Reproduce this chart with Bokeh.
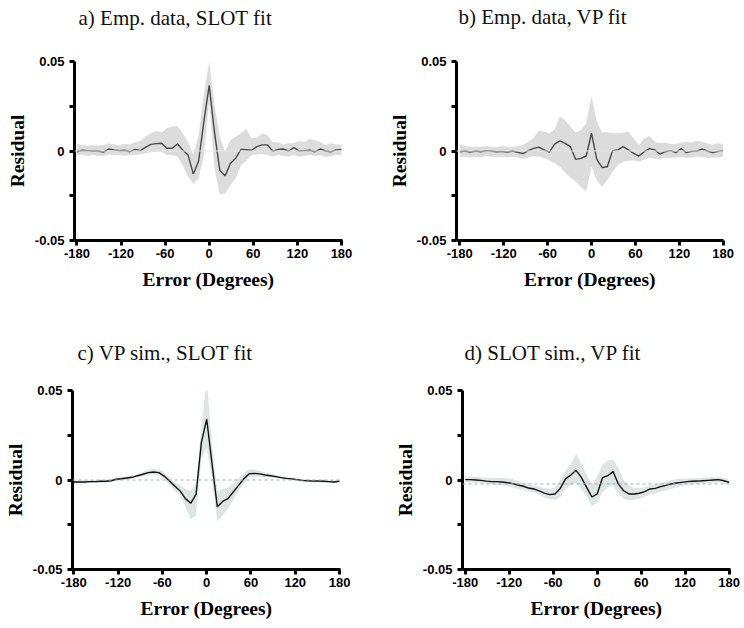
from bokeh.plotting import figure
from bokeh.layouts import column, row
from bokeh.models import Range1d, FixedTicker, Span, CustomJSTickFormatter, Title
from bokeh.embed import file_html
from bokeh.resources import INLINE

# ---------------- data ----------------
angles = [-180, -172.8, -165.6, -158.4, -151.2, -144, -136.8, -129.6, -122.4, -115.2,
          -108, -100.8, -93.6, -86.4, -79.2, -72, -64.8, -57.6, -50.4, -43.2,
          -36, -28.8, -21.6, -14.4, -7.2, 0, 7.2, 14.4, 21.6, 28.8,
          36, 43.2, 50.4, 57.6, 64.8, 72, 79.2, 86.4, 93.6, 100.8,
          108, 115.2, 122.4, 129.6, 136.8, 144, 151.2, 158.4, 165.6, 172.8, 180]

x_ticks = [-180, -120, -60, 0, 60, 120, 180]
y_ticks = [-0.05, 0, 0.05]
y_minor_ticks = [-0.025, 0.025]

titles = ["a) Emp. data, SLOT fit", "b) Emp. data, VP fit",
          "c) VP sim., SLOT fit", "d) SLOT sim., VP fit"]
x_label = "Error (Degrees)"
y_label = "Residual"

a_line = [-0.0004, 0.0004, 0.0002, 0.0, 0.0, -0.0006, 0.0011, 0.0006, 0.0002, 0.0004,
          -0.0004, 0.0009, 0.0002, 0.0022, 0.0037, 0.0041, 0.0043, 0.0015, 0.0015, 0.0039,
          0.0006, -0.0022, -0.0129, -0.0056, 0.0165, 0.0367, 0.0105, -0.0107, -0.0139, -0.0070,
          -0.0040, 0.0009, 0.0007, 0.0004, 0.0024, 0.0034, 0.0034, 0.0000, 0.0008, 0.0011,
          0.0000, 0.0019, 0.0000, 0.0002, 0.0004, -0.0004, 0.0011, 0.0000, -0.0004, 0.0006, 0.0009]
a_upper = [0.0041, 0.0034, 0.0030, 0.0034, 0.0030, 0.0034, 0.0043, 0.0037, 0.0034, 0.0041,
           0.0037, 0.0049, 0.0056, 0.0081, 0.0099, 0.0112, 0.0105, 0.0127, 0.0137, 0.0139,
           0.0099, 0.0052, -0.0022, 0.0090, 0.0315, 0.0502, 0.0258, 0.0081, -0.0004, 0.0062,
           0.0081, 0.0099, 0.0124, 0.0071, 0.0075, 0.0099, 0.0090, 0.0049, 0.0049, 0.0037,
           0.0043, 0.0043, 0.0056, 0.0049, 0.0067, 0.0060, 0.0049, 0.0034, 0.0043, 0.0037, 0.0037]
a_lower = [-0.0022, -0.0022, -0.0028, -0.0022, -0.0028, -0.0028, -0.0019, -0.0022, -0.0022, -0.0026,
           -0.0022, -0.0022, -0.0019, -0.0013, -0.0007, -0.0004, -0.0004, -0.0022, -0.0022, -0.0032,
           -0.0079, -0.0144, -0.0182, -0.0154, -0.0022, 0.0277, -0.0097, -0.0243, -0.0238, -0.0191,
           -0.0154, -0.0079, -0.0056, -0.0022, -0.0019, -0.0015, -0.0022, -0.0032, -0.0022, -0.0026,
           -0.0032, -0.0022, -0.0032, -0.0028, -0.0022, -0.0028, -0.0022, -0.0032, -0.0028, -0.0022, -0.0022]

b_line = [-0.0004, 0.0, -0.0006, 0.0, -0.0004, 0.0002, 0.0, -0.0004, -0.0002, -0.0006,
          0.0, -0.0007, -0.0015, 0.0002, 0.0015, 0.0022, 0.0006, -0.0006, 0.0039, 0.0056,
          0.0043, 0.0024, -0.0047, -0.0041, -0.0028, 0.0099, -0.0047, -0.0092, -0.0088, 0.0002,
          0.0006, 0.0024, 0.0006, -0.0013, -0.0028, -0.0004, 0.0013, 0.0006, -0.0017, -0.0004,
          0.0002, -0.0009, 0.0013, -0.0009, -0.0002, 0.0, 0.0011, 0.0, -0.0009, -0.0002, 0.0002]
b_upper = [0.0039, 0.0028, 0.0024, 0.0021, 0.0024, 0.0028, 0.0024, 0.0021, 0.0028, 0.0024,
           0.0024, 0.0028, 0.0034, 0.0052, 0.0071, 0.0114, 0.0109, 0.0099, 0.0122, 0.0193,
           0.0170, 0.0137, 0.0103, 0.0118, 0.0155, 0.0309, 0.0165, 0.0103, 0.0105, 0.0099,
           0.0099, 0.0103, 0.0109, 0.0071, 0.0034, 0.0071, 0.0084, 0.0052, 0.0043, 0.0047,
           0.0039, 0.0039, 0.0047, 0.0052, 0.0047, 0.0058, 0.0052, 0.0043, 0.0034, 0.0043, 0.0039]
b_lower = [-0.0036, -0.0032, -0.0036, -0.0032, -0.0036, -0.0028, -0.0032, -0.0036, -0.0032, -0.0036,
           -0.0032, -0.0037, -0.0043, -0.0036, -0.0028, -0.0032, -0.0041, -0.0051, -0.0069, -0.0088,
           -0.0122, -0.0148, -0.0172, -0.0200, -0.0228, -0.0088, -0.0163, -0.0200, -0.0163, -0.0116,
           -0.0079, -0.0060, -0.0054, -0.0051, -0.0060, -0.0047, -0.0036, -0.0043, -0.0047, -0.0036,
           -0.0039, -0.0036, -0.0032, -0.0039, -0.0036, -0.0032, -0.0032, -0.0039, -0.0036, -0.0036, -0.0032]

c_line = [-0.0011, -0.0011, -0.0011, -0.0009, -0.0009, -0.0007, -0.0007, -0.0004, 0.0004, 0.0007,
          0.0011, 0.0015, 0.0024, 0.0032, 0.0041, 0.0045, 0.0041, 0.0022, -0.0006, -0.0034,
          -0.0061, -0.0104, -0.0130, -0.0080, 0.0209, 0.0340, 0.0093, -0.0150, -0.0120, -0.0104,
          -0.0067, -0.0030, 0.0007, 0.0035, 0.0037, 0.0034, 0.0028, 0.0024, 0.0019, 0.0013,
          0.0009, 0.0006, 0.0002, -0.0002, -0.0004, -0.0006, -0.0006, -0.0007, -0.0009, -0.0011, -0.0006]
c_upper = [-0.0003, -0.0003, -0.0003, -0.0001, -0.0001, 0.0001, 0.0001, 0.0004, 0.0014, 0.0017,
           0.0021, 0.0025, 0.0034, 0.0045, 0.0058, 0.0062, 0.0060, 0.0045, 0.0015, -0.0015,
           -0.0030, -0.0050, -0.0060, -0.0020, 0.0300, 0.0560, 0.0200, -0.0060, -0.0050, -0.0040,
           -0.0015, 0.0010, 0.0040, 0.0060, 0.0058, 0.0050, 0.0042, 0.0035, 0.0028, 0.0020,
           0.0016, 0.0013, 0.0010, 0.0006, 0.0004, 0.0002, 0.0002, 0.0001, -0.0001, -0.0003, 0.0002]
c_lower = [-0.0019, -0.0019, -0.0019, -0.0017, -0.0017, -0.0015, -0.0015, -0.0012, -0.0004, -0.0001,
           0.0003, 0.0007, 0.0016, 0.0022, 0.0030, 0.0032, 0.0025, 0.0005, -0.0030, -0.0060,
           -0.0090, -0.0150, -0.0220, -0.0200, 0.0120, 0.0180, 0.0000, -0.0230, -0.0200, -0.0160,
           -0.0110, -0.0060, -0.0020, 0.0018, 0.0020, 0.0018, 0.0015, 0.0016, 0.0011, 0.0005,
           0.0001, -0.0002, -0.0006, -0.0010, -0.0012, -0.0014, -0.0014, -0.0015, -0.0017, -0.0019, -0.0014]

d_line = [0.0002, 0.0002, 0.0, -0.0002, -0.0006, -0.0009, -0.0009, -0.0011, -0.0015, -0.0020,
          -0.0028, -0.0035, -0.0045, -0.0050, -0.0061, -0.0073, -0.0082, -0.0078, -0.0047, 0.0006,
          0.0028, 0.0054, 0.0015, -0.0041, -0.0095, -0.0078, 0.0013, 0.0024, 0.0047, -0.0022,
          -0.0060, -0.0078, -0.0078, -0.0074, -0.0065, -0.0050, -0.0047, -0.0037, -0.0030, -0.0022,
          -0.0017, -0.0013, -0.0009, -0.0007, -0.0006, -0.0004, -0.0002, 0.0, 0.0002, -0.0004, -0.0013]
d_upper = [0.0018, 0.0018, 0.0017, 0.0015, 0.0012, 0.0010, 0.0011, 0.0012, 0.0010, 0.0005,
           -0.0005, -0.0015, -0.0025, -0.0030, -0.0038, -0.0045, -0.0050, -0.0040, 0.0000, 0.0050,
           0.0090, 0.0145, 0.0090, 0.0030, -0.0025, 0.0020, 0.0085, 0.0110, 0.0115, 0.0070,
           0.0000, -0.0030, -0.0045, -0.0045, -0.0040, -0.0030, -0.0025, -0.0015, -0.0008, -0.0002,
           0.0005, 0.0008, 0.0008, 0.0010, 0.0010, 0.0012, 0.0014, 0.0015, 0.0015, 0.0012, 0.0000]
d_lower = [-0.0012, -0.0013, -0.0015, -0.0018, -0.0020, -0.0025, -0.0028, -0.0030, -0.0035, -0.0040,
           -0.0050, -0.0055, -0.0065, -0.0070, -0.0085, -0.0098, -0.0108, -0.0112, -0.0095, -0.0050,
           -0.0030, -0.0015, -0.0050, -0.0090, -0.0145, -0.0125, -0.0070, -0.0040, -0.0030, -0.0075,
           -0.0105, -0.0115, -0.0110, -0.0105, -0.0095, -0.0080, -0.0075, -0.0065, -0.0058, -0.0050,
           -0.0042, -0.0035, -0.0030, -0.0025, -0.0022, -0.0020, -0.0018, -0.0016, -0.0014, -0.0015, -0.0022]

baseline_c = 0.0
baseline_d = -0.0022

SERIF = "Liberation Serif"
SANS = "Liberation Sans"
FRAME_H = 179


def panel(title, line, upper, lower, xr, left, fw, top, bottom, band_color, line_color,
          line_width, title_dx, title_gap):
    p = figure(output_backend="svg", toolbar_location=None,
               x_range=Range1d(*xr), y_range=Range1d(-0.05, 0.05),
               frame_width=fw, frame_height=FRAME_H,
               min_border_left=left, min_border_right=372 - left - fw,
               min_border_top=top, min_border_bottom=bottom,
               background_fill_color="white", border_fill_color="white")
    p.outline_line_color = None
    p.grid.visible = False

    p.varea(x=angles, y1=lower, y2=upper, fill_color=band_color, fill_alpha=1.0)
    p.line(x=angles, y=line, line_color=line_color, line_width=line_width)

    # invisible spacer (nearest the frame), then the real title above it
    p.add_layout(Title(text=" ", text_font_size="2px", standoff=title_gap,
                       text_color="white"), "above")
    p.add_layout(Title(text=title, align="left", offset=title_dx, standoff=0,
                       text_font=SERIF, text_font_style="normal",
                       text_font_size="21px", text_color="#111111"), "above")

    for ax in (p.xaxis[0], p.yaxis[0]):
        ax.axis_line_width = 3
        ax.axis_line_color = "black"
        ax.major_tick_line_width = 3
        ax.major_tick_line_color = "black"
        ax.major_tick_out = 5
        ax.major_tick_in = 0
        ax.minor_tick_line_width = 3
        ax.minor_tick_line_color = "black"
        ax.minor_tick_out = 5
        ax.minor_tick_in = 0
        ax.major_label_text_font = SANS
        ax.major_label_text_font_style = "bold"
        ax.major_label_text_font_size = "13px"
        ax.major_label_text_color = "black"
        ax.axis_label_text_font = SERIF
        ax.axis_label_text_font_style = "bold"
        ax.axis_label_text_font_size = "19.5px"
        ax.axis_label_text_color = "black"

    p.xaxis.ticker = FixedTicker(ticks=x_ticks, minor_ticks=[])
    p.xaxis.formatter = CustomJSTickFormatter(code="return tick.toFixed(0);")
    p.xaxis.major_label_standoff = 3
    p.xaxis.axis_label = x_label
    p.xaxis.axis_label_standoff = 8
    p.yaxis.ticker = FixedTicker(ticks=y_ticks, minor_ticks=y_minor_ticks)
    p.yaxis.formatter = CustomJSTickFormatter(code="return tick == 0 ? '0' : tick.toFixed(2);")
    p.yaxis.major_label_standoff = 5
    p.yaxis.axis_label = y_label
    p.yaxis.axis_label_standoff = 4
    return p


pa = panel(titles[0], a_line, a_upper, a_lower, (-183.3, 181.4), 74, 268, 61, 74,
           "#dcdcdc", "#484848", 1.4, 4, 28)
pa.add_layout(Span(location=0, dimension="width", line_color="#e4e4e4", line_width=1))

pb = panel(titles[1], b_line, b_upper, b_lower, (-184.5, 180.4), 84, 267, 61, 74,
           "#dcdcdc", "#484848", 1.4, 2, 29)
pb.add_layout(Span(location=0, dimension="width", line_color="#e4e4e4", line_width=1))

pc = panel(titles[2], c_line, c_upper, c_lower, (-181.8, 181.3), 72, 268, 76, 59,
           "#dee6e5", "#111111", 1.4, 5, 22)
pc.add_layout(Span(location=baseline_c, dimension="width", line_color="#9fb0ae",
                   line_width=1, line_dash="3 3"))

pd = panel(titles[3], d_line, d_upper, d_lower, (-183.7, 181.8), 90, 268, 76, 59,
           "#dee6e5", "#111111", 1.4, 2, 22)
pd.add_layout(Span(location=baseline_d, dimension="width", line_color="#9fb0ae",
                   line_width=1, line_dash="3 3"))

layout = column(row(pa, pb, spacing=0), row(pc, pd, spacing=0), spacing=0)
open("out.html", "w").write(file_html(layout, INLINE))
